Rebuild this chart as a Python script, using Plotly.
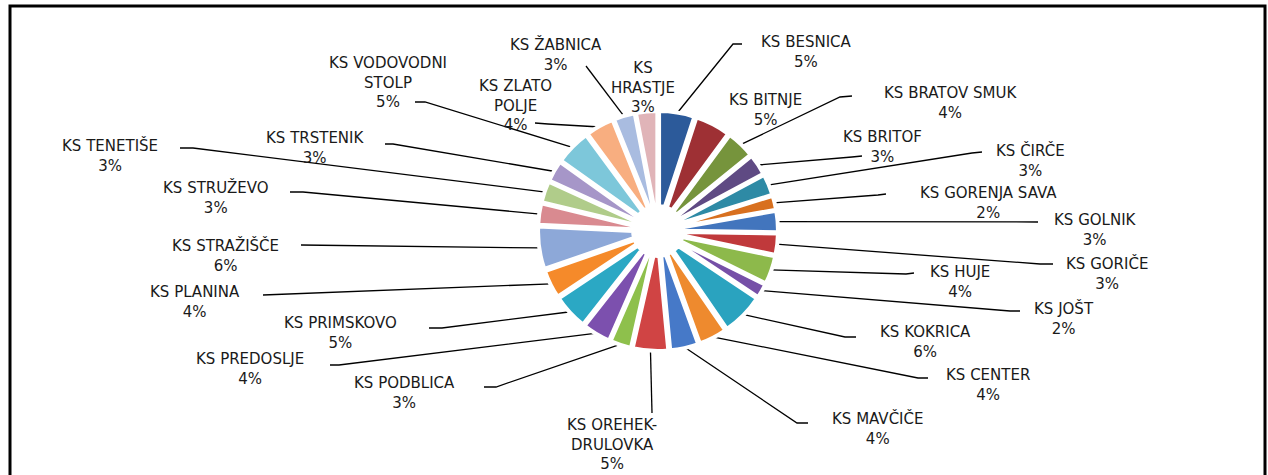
import numpy as np
import plotly.graph_objects as go

# share of each local community (krajevna skupnost), clockwise from 12 o'clock
districts = ["KS BESNICA", "KS BITNJE", "KS BRATOV SMUK", "KS BRITOF", "KS ČIRČE",
             "KS GORENJA SAVA", "KS GOLNIK", "KS GORIČE", "KS HUJE", "KS JOŠT",
             "KS KOKRICA", "KS CENTER", "KS MAVČIČE", "KS OREHEK-DRULOVKA",
             "KS PODBLICA", "KS PREDOSLJE", "KS PRIMSKOVO", "KS PLANINA",
             "KS STRAŽIŠČE", "KS STRUŽEVO", "KS TENETIŠE", "KS TRSTENIK",
             "KS VODOVODNI STOLP", "KS ZLATO POLJE", "KS ŽABNICA", "KS HRASTJE"]
shares = [5, 5, 4, 3, 3, 2, 3, 3, 4, 2, 6, 4, 4, 5, 3, 4, 5, 4, 6, 3, 3, 3, 5, 4, 3, 3]

colors = ["#2C5A9A", "#9E3034", "#76943C", "#5F4A83", "#2E8AA5", "#D8701F",
          "#4275BD", "#C0393B", "#8DB94B", "#7650A7", "#2AA3BF", "#EE8A2E",
          "#4679C8", "#D04444", "#8EC04C", "#7C50AE", "#2BA8C4", "#F58A2A",
          "#8DA8D8", "#D98A90", "#B0CC8A", "#A696C8", "#7DC7DA", "#F8AE80",
          "#A9BCE0", "#E0B4B8"]

# how long names are broken in the data labels
wrapped = {"KS OREHEK-DRULOVKA": "KS OREHEK-<br>DRULOVKA",
           "KS VODOVODNI STOLP": "KS VODOVODNI<br>STOLP",
           "KS ZLATO POLJE": "KS ZLATO<br>POLJE",
           "KS HRASTJE": "KS<br>HRASTJE"}

# label placement in pixels: text centre x, first line y, leader start, leader elbow
label_pos = {
    "KS BESNICA": (806, 42, (742, 44), (733, 44)),
    "KS BITNJE": (765, 100, None, None),
    "KS BRATOV SMUK": (951, 93, (852, 96), (840, 97)),
    "KS BRITOF": (882, 137, (862, 156), (852, 157)),
    "KS ČIRČE": (1030, 150, (982, 152), (972, 153)),
    "KS GORENJA SAVA": (988, 193, (886, 194), (878, 195)),
    "KS GOLNIK": (1095, 220, (1038, 222), None),
    "KS GORIČE": (1107, 263, (1053, 264), (1040, 264)),
    "KS HUJE": (960, 272, (914, 273), (906, 274)),
    "KS JOŠT": (1064, 308, (1020, 311), (1010, 311)),
    "KS KOKRICA": (925, 332, (856, 337), (845, 337)),
    "KS CENTER": (988, 375, (928, 378), (918, 378)),
    "KS MAVČIČE": (877, 418, (808, 423), (797, 423)),
    "KS OREHEK-DRULOVKA": (612, 425, (652, 413), None),
    "KS PODBLICA": (404, 383, (484, 387), (496, 387)),
    "KS PREDOSLJE": (250, 359, (330, 365), (339, 365)),
    "KS PRIMSKOVO": (340, 323, (429, 328), (442, 328)),
    "KS PLANINA": (195, 292, (263, 295), None),
    "KS STRAŽIŠČE": (225, 245, (301, 245), None),
    "KS STRUŽEVO": (216, 187, (290, 192), (303, 192)),
    "KS TENETIŠE": (110, 145, (180, 148), (193, 148)),
    "KS TRSTENIK": (315, 138, (385, 144), (393, 144)),
    "KS VODOVODNI STOLP": (388, 63, (415, 102), (425, 102)),
    "KS ZLATO POLJE": (515, 86, (535, 123), (548, 124)),
    "KS ŽABNICA": (556, 44, (586, 66), None),
    "KS HRASTJE": (643, 68, None, None),
}

W, H = 1268, 475
cx, cy, r_out = 658, 231, 120
pull = 0.06

fig = go.Figure()

fig.add_trace(go.Pie(
    labels=districts, values=shares, sort=False, direction="clockwise", rotation=0,
    marker=dict(colors=colors, line=dict(color="white", width=4)),
    pull=pull, hole=0.16, textinfo="none", hoverinfo="label+percent",
    domain=dict(x=[(cx - r_out) / W, (cx + r_out) / W],
                y=[(H - cy - r_out) / H, (H - cy + r_out) / H]),
    showlegend=False,
))

# where each leader line meets its slice (mid angle of the slice)
total = sum(shares)
vals = np.array(shares, dtype=float)
mid = (np.cumsum(vals) - vals / 2) / total * 2 * np.pi
edge_x = cx + (r_out - 1) * np.sin(mid)
edge_y = cy - (r_out - 1) * np.cos(mid)

lx, ly = [], []
for i, name in enumerate(districts):
    tx, ty, start, elbow = label_pos[name]
    pct = round(shares[i] / total * 100)
    fig.add_annotation(x=tx, y=ty - 11, xref="x", yref="y",
                       text=f"{wrapped.get(name, name)}<br>{pct}%",
                       showarrow=False, xanchor="center", yanchor="top", align="center")
    if start is None:
        continue
    pts = [start] + ([elbow] if elbow else []) + [(edge_x[i], edge_y[i])]
    lx += [p[0] for p in pts] + [None]
    ly += [p[1] for p in pts] + [None]

fig.add_trace(go.Scatter(x=lx, y=ly, mode="lines", line=dict(color="black", width=1.3),
                         hoverinfo="skip", showlegend=False))

# chart area border (bottom edge lies below the visible window)
fig.add_shape(type="rect", xref="paper", yref="paper", x0=10 / W, x1=1265 / W,
              y0=-0.05, y1=(H - 6) / H, line=dict(color="black", width=3))

fig.update_xaxes(range=[0, W], visible=False, fixedrange=True)
fig.update_yaxes(range=[H, 0], visible=False, fixedrange=True)
fig.update_layout(width=W, height=H, margin=dict(l=0, r=0, t=0, b=0),
                  paper_bgcolor="white", plot_bgcolor="white",
                  font=dict(family="DejaVu Sans", size=15, color="#1a1a1a"))

# drop the default page margin so the figure sits flush in the window
fig.write_html("out.html", config={"displayModeBar": False},
               post_script="document.body.style.margin='0';")
